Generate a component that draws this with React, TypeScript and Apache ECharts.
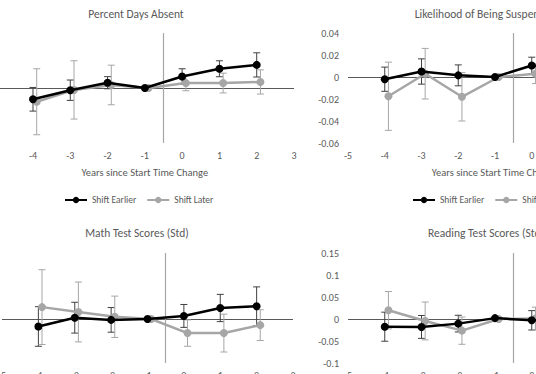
import React, { useEffect, useRef } from "react";
import * as echarts from "echarts";

// ---------- data ----------
const years = [-4, -3, -2, -1, 0, 1, 2];
const legendNames = ["Shift Earlier", "Shift Later"];
const titles = [
  "Percent Days Absent",
  "Likelihood of Being Suspended",
  "Math Test Scores (Std)",
  "Reading Test Scores (Std)",
];
const xAxisName = "Years since Start Time Change";

// Percent Days Absent
const absentEarlier = [-0.205, -0.04, 0.096, 0, 0.21, 0.35, 0.42];
const absentEarlierErr = [0.215, 0.185, 0.11, 0, 0.14, 0.145, 0.22];
const absentLater = [-0.25, -0.035, 0.055, 0, 0.09, 0.09, 0.11];
const absentLaterErr = [0.6, 0.53, 0.36, 0, 0.14, 0.18, 0.22];

// Likelihood of Being Suspended
const suspEarlier = [-0.002, 0.005, 0.0015, 0, 0.0105, 0.008, 0.009];
const suspEarlierErr = [0.011, 0.0115, 0.0095, 0, 0.0075, 0.009, 0.011];
const suspLater = [-0.0175, 0.003, -0.018, 0, 0.003, 0.003, 0.002];
const suspLaterErr = [0.031, 0.023, 0.022, 0, 0.009, 0.01, 0.012];

// Math Test Scores (Std)
const mathEarlier = [-0.017, 0.003, -0.002, 0, 0.007, 0.025, 0.029];
const mathEarlierErr = [0.045, 0.035, 0.028, 0, 0.026, 0.031, 0.044];
const mathLater = [0.027, 0.016, 0.005, 0, -0.032, -0.032, -0.014];
const mathLaterErr = [0.085, 0.068, 0.047, 0, 0.03, 0.043, 0.035];

// Reading Test Scores (Std)
const readEarlier = [-0.0175, -0.018, -0.0105, 0.002, -0.003, -0.004, -0.002];
const readEarlierErr = [0.033, 0.026, 0.019, 0, 0.022, 0.024, 0.028];
const readLater = [0.02, -0.0045, -0.0265, 0, 0.001, 0.0, 0.002];
const readLaterErr = [0.0425, 0.043, 0.031, 0, 0.026, 0.028, 0.03];

const yRanges = [
  [-1, 1, 0.5],
  [-0.06, 0.04, 0.02],
  [-0.1, 0.15, 0.05],
  [-0.1, 0.15, 0.05],
];
const laterShift = 0.1; // horizontal offset of the "Shift Later" series

const panels = [
  [absentEarlier, absentEarlierErr, absentLater, absentLaterErr],
  [suspEarlier, suspEarlierErr, suspLater, suspLaterErr],
  [mathEarlier, mathEarlierErr, mathLater, mathLaterErr],
  [readEarlier, readEarlierErr, readLater, readLaterErr],
];

// ---------- styling ----------
const FONT = "Carlito, Lato, sans-serif";
const TEXT = "#595959";
const BLACK = "#000000";
const GRAY = "#a6a6a6";
const OFFX = 80; // chart is shifted left by this many px (figure is cropped)

const grids = [
  { left: 75.7, top: 33, width: 298.3, height: 110 },
  { left: 428, top: 33, width: 294, height: 110 },
  { left: 82, top: 253, width: 291, height: 110 },
  { left: 428, top: 253, width: 294, height: 110 },
];
const titlePos = [
  [136, 14],
  [486, 14],
  [137, 233],
  [486, 233],
];
const legendPos = [
  [64, 195],
  [412, 195],
];

function errSeries(idx: number, xs: number[], vals: number[], errs: number[], color: string) {
  return {
    type: "custom",
    xAxisIndex: idx,
    yAxisIndex: idx,
    silent: true,
    z: 1,
    encode: { x: 0, y: [1, 2] },
    data: xs.map((x, i) => [x, vals[i] - errs[i], vals[i] + errs[i]]),
    renderItem: (params: any, api: any) => {
      const x = api.value(0);
      const p1 = api.coord([x, api.value(1)]);
      const p2 = api.coord([x, api.value(2)]);
      const c = 3.5;
      const style = { stroke: color, lineWidth: 1 };
      return {
        type: "group",
        children: [
          { type: "line", shape: { x1: p1[0], y1: p1[1], x2: p2[0], y2: p2[1] }, style },
          { type: "line", shape: { x1: p1[0] - c, y1: p1[1], x2: p1[0] + c, y2: p1[1] }, style },
          { type: "line", shape: { x1: p2[0] - c, y1: p2[1], x2: p2[0] + c, y2: p2[1] }, style },
        ],
      };
    },
  };
}

function buildOption() {
  const xAxis: any[] = [];
  const yAxis: any[] = [];
  const series: any[] = [];
  panels.forEach((p, idx) => {
    const [e, eErr, l, lErr] = p;
    const xsLater = years.map((y) => y + laterShift);
    xAxis.push({
      type: "value",
      gridIndex: idx,
      min: -5,
      max: 3,
      interval: 1,
      axisLine: { show: false },
      axisTick: { show: false },
      splitLine: { show: false },
      axisLabel: { color: TEXT, fontSize: 10, fontFamily: FONT, margin: 7 },
      name: xAxisName,
      nameLocation: "middle",
      nameGap: 24,
      nameTextStyle: { color: TEXT, fontSize: 10.5, fontFamily: FONT },
    });
    yAxis.push({
      type: "value",
      gridIndex: idx,
      min: yRanges[idx][0],
      max: yRanges[idx][1],
      interval: yRanges[idx][2],
      axisLine: { show: false },
      axisTick: { show: false },
      splitLine: { show: false },
      axisLabel: { color: TEXT, fontSize: 10, fontFamily: FONT, margin: 9 },
    });
    series.push(errSeries(idx, years, e, eErr, "#404040"));
    series.push(errSeries(idx, xsLater, l, lErr, GRAY));
    series.push({
      type: "line",
      name: legendNames[1],
      xAxisIndex: idx,
      yAxisIndex: idx,
      data: xsLater.map((x, i) => [x, l[i]]),
      symbol: "circle",
      symbolSize: 8,
      z: 3,
      lineStyle: { color: GRAY, width: 2.5 },
      itemStyle: { color: GRAY },
      markLine: {
        silent: true,
        symbol: ["none", "none"],
        label: { show: false },
        z: 0,
        data: [
          { yAxis: 0, lineStyle: { color: "#595959", width: 1, type: "solid" } },
          { xAxis: -0.5, lineStyle: { color: GRAY, width: 1.2, type: "solid" } },
        ],
      },
    });
    series.push({
      type: "line",
      name: legendNames[0],
      xAxisIndex: idx,
      yAxisIndex: idx,
      data: years.map((x, i) => [x, e[i]]),
      symbol: "circle",
      symbolSize: 8,
      z: 4,
      lineStyle: { color: BLACK, width: 2.5 },
      itemStyle: { color: BLACK },
    });
  });

  return {
    animation: false,
    backgroundColor: "#ffffff",
    grid: grids.map((g) => ({
      left: g.left,
      top: g.top,
      width: g.width,
      height: g.height,
      containLabel: false,
      outerBoundsMode: "none",
    })),
    xAxis,
    yAxis,
    series,
    legend: legendPos.map(([x, y]) => ({
      left: x + OFFX,
      top: y,
      padding: 0,
      data: legendNames,
      itemWidth: 22,
      itemHeight: 8,
      itemGap: 10,
      selectedMode: false,
      textStyle: { color: TEXT, fontSize: 9.5, fontFamily: FONT },
    })),
    graphic: titles.map((t, i) => ({
      type: "text",
      x: titlePos[i][0] + OFFX,
      y: titlePos[i][1],
      style: {
        text: t,
        align: "center",
        verticalAlign: "middle",
        fill: TEXT,
        fontSize: 11.5,
        fontFamily: FONT,
      },
    })),
  };
}

export default function App() {
  const ref = useRef<HTMLDivElement>(null);
  useEffect(() => {
    if (!ref.current) return;
    const chart = echarts.init(ref.current, undefined, { renderer: "svg" });
    chart.setOption(buildOption() as any);
    return () => chart.dispose();
  }, []);
  return (
    <div
      style={{
        position: "fixed",
        left: 0,
        top: 0,
        width: 536,
        height: 374,
        overflow: "hidden",
        background: "#fff",
      }}
    >
      <div
        ref={ref}
        style={{ position: "absolute", left: -OFFX, top: 0, width: 760, height: 374 }}
      />
    </div>
  );
}
